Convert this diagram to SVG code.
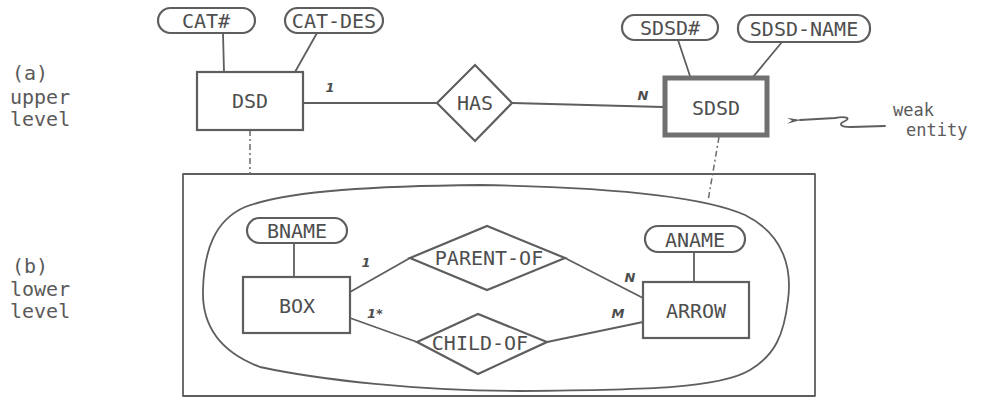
<svg xmlns="http://www.w3.org/2000/svg" width="994" height="404" viewBox="0 0 994 404">
<defs>
<style>
.ln{fill:none;stroke:#5e5e5e;stroke-width:1.8;stroke-linecap:round;stroke-linejoin:round}
.dash{fill:none;stroke:#6a6a6a;stroke-width:1.5;stroke-dasharray:6 3 2 3}
.box{fill:#fff;stroke:#5e5e5e;stroke-width:2.2}
.weak{fill:#fff;stroke:#707070;stroke-width:5}
.att{fill:#fff;stroke:#5e5e5e;stroke-width:2.2}
.t{font-family:"DejaVu Sans Mono","Liberation Mono",monospace;font-size:20px;fill:#4e4e4e;text-anchor:middle;dominant-baseline:central}
.side{font-family:"DejaVu Sans Mono","Liberation Mono",monospace;font-size:20px;fill:#5a5a5a}
.note{font-family:"DejaVu Sans Mono","Liberation Mono",monospace;font-size:17px;fill:#5a5a5a}
.card{font-family:"DejaVu Sans","Liberation Sans",sans-serif;font-size:13px;font-style:italic;font-weight:bold;fill:#4e4e4e;text-anchor:middle;dominant-baseline:central}
</style>
<marker id="ah" viewBox="0 0 14 8" refX="1" refY="4" markerWidth="14" markerHeight="8" orient="auto" markerUnits="userSpaceOnUse">
<path d="M14,1 L0,4 L14,7 L9,4 Z" fill="#5e5e5e"/>
</marker>
</defs>
<rect width="994" height="404" fill="#fff"/>

<g id="side-labels">
<text class="side" x="12" y="80">(a)</text>
<text class="side" x="10" y="104">upper</text>
<text class="side" x="10" y="126">level</text>
<text class="side" x="12" y="273">(b)</text>
<text class="side" x="10" y="296">lower</text>
<text class="side" x="10" y="318">level</text>
</g>

<g id="lower-level-frame">
<rect x="183" y="174" width="632" height="222" class="ln" stroke-width="1.6"/>
<path class="ln" d="M480,185 C600,187 700,195 745,215 C785,235 792,270 788,300 C784,335 775,355 750,370 C720,388 650,390 520,391 C420,391 320,380 260,367 C215,350 202,320 203,290 C204,250 215,220 245,207 C290,190 380,186 480,185 Z"/>
</g>

<g id="connectors">
<line class="ln" x1="223" y1="33" x2="224" y2="72"/>
<line class="ln" x1="317" y1="33" x2="295" y2="72"/>
<line class="ln" x1="303" y1="103" x2="437" y2="103"/>
<line class="ln" x1="512" y1="103" x2="663" y2="107"/>
<line class="ln" x1="678" y1="40" x2="690" y2="76"/>
<line class="ln" x1="782" y1="42" x2="753" y2="77"/>
<line class="dash" x1="250" y1="130" x2="250" y2="174"/>
<line class="dash" x1="719" y1="137" x2="708" y2="201"/>
<line class="ln" x1="294" y1="243" x2="294" y2="277"/>
<line class="ln" x1="694" y1="252" x2="694" y2="282"/>
<line class="ln" x1="350" y1="292" x2="410" y2="258"/>
<line class="ln" x1="350" y1="318" x2="417" y2="342"/>
<line class="ln" x1="565" y1="258" x2="643" y2="298"/>
<line class="ln" x1="547" y1="342" x2="643" y2="322"/>
<text class="card" x="330" y="87">1</text>
<text class="card" x="643" y="95">N</text>
<text class="card" x="366" y="262">1</text>
<text class="card" x="375" y="313">1*</text>
<text class="card" x="630" y="277">N</text>
<text class="card" x="618" y="313">M</text>
</g>

<g id="weak-entity-note">
<path class="ln" d="M885,126 L851,127 C840,127 838,124 845,121 C851,118 846,116 835,118 L800,120" marker-end="url(#ah)"/>
<text class="note" x="893" y="116">weak</text>
<text class="note" x="906" y="136">entity</text>
</g>

<g id="cat-num"><rect class="att" x="158" y="8" width="97" height="25" rx="12.5"/><text class="t" x="206" y="21">CAT#</text></g>
<g id="cat-des"><rect class="att" x="285" y="8" width="98" height="25" rx="12.5"/><text class="t" x="334" y="21">CAT-DES</text></g>
<g id="dsd"><rect class="box" x="197" y="72" width="106" height="58"/><text class="t" x="250" y="101">DSD</text></g>
<g id="has"><polygon class="box" points="437,103 475,65 512,103 475,141"/><text class="t" x="475" y="103">HAS</text></g>
<g id="sdsd-num"><rect class="att" x="622" y="15" width="96" height="25" rx="12.5"/><text class="t" x="670" y="28">SDSD#</text></g>
<g id="sdsd-name"><rect class="att" x="738" y="15" width="132" height="27" rx="13"/><text class="t" x="804" y="29">SDSD-NAME</text></g>
<g id="sdsd"><rect class="weak" x="665" y="78" width="102" height="57"/><text class="t" x="716" y="108">SDSD</text></g>

<g id="bname"><rect class="att" x="247" y="218" width="100" height="25" rx="12.5"/><text class="t" x="297" y="231">BNAME</text></g>
<g id="box"><rect class="box" x="243" y="277" width="107" height="56"/><text class="t" x="297" y="306">BOX</text></g>
<g id="parent-of"><polygon class="box" points="410,258 487,226 565,258 487,290"/><text class="t" x="489" y="258">PARENT-OF</text></g>
<g id="child-of"><polygon class="box" points="417,342 478,314 547,342 478,374"/><text class="t" x="480" y="343">CHILD-OF</text></g>
<g id="aname"><rect class="att" x="645" y="226" width="100" height="26" rx="13"/><text class="t" x="695" y="240">ANAME</text></g>
<g id="arrow"><rect class="box" x="643" y="282" width="106" height="56"/><text class="t" x="696" y="311">ARROW</text></g>
</svg>
